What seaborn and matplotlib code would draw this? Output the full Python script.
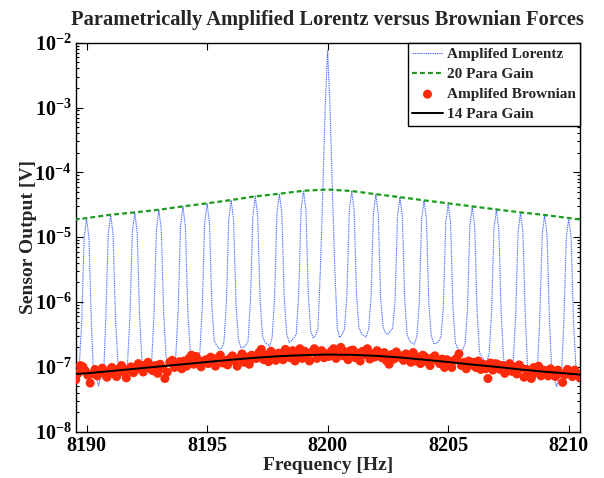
import numpy as np
import pandas as pd
import matplotlib
matplotlib.use("Agg")
import matplotlib.pyplot as plt
import seaborn as sns
from matplotlib.ticker import FixedLocator, FuncFormatter, LogLocator, NullFormatter

# ---------------- data ----------------
# Amplified Lorentz force spectrum, log10 of sensor output [V], 0.1 Hz grid 8189.6 .. 8210.4
lorentz_freq = np.round(np.linspace(8189.6, 8210.4, 209), 2)
lorentz_log = [
    -7.05, -6.98, -6.31, -5.01,
    -4.71, -5.01, -6.31, -7.18, -7.15, -7.30, -7.10, -7.20, -6.25, -4.95,   # 8190
    -4.65, -4.95, -6.25, -6.93, -7.02, -7.05, -7.07, -6.95, -6.22, -4.92,   # 8191
    -4.62, -4.92, -6.22, -6.91, -6.98, -7.03, -7.03, -6.93, -6.18, -4.88,   # 8192
    -4.58, -4.88, -6.18, -6.83, -6.98, -6.95, -6.90, -6.85, -6.13, -4.83,   # 8193
    -4.53, -4.83, -6.13, -6.76, -6.90, -6.88, -6.83, -6.78, -6.08, -4.78,   # 8194
    -4.48, -4.78, -6.08, -6.60, -6.67, -6.72, -6.72, -6.62, -6.03, -4.73,   # 8195
    -4.43, -4.73, -6.03, -6.58, -6.70, -6.70, -6.67, -6.60, -5.97, -4.67,   # 8196
    -4.37, -4.67, -5.97, -6.53, -6.62, -6.65, -6.68, -6.55, -5.93, -4.63,   # 8197
    -4.33, -4.63, -5.93, -6.48, -6.62, -6.60, -6.55, -6.50, -5.88, -4.58,   # 8198
    -4.28, -4.58, -5.88, -6.45, -6.55, -6.52, -6.40, -5.50, -4.30, -3.00,   # 8199
    -2.12, -3.00, -4.30, -5.50, -6.40, -6.55, -6.50, -6.42, -5.89, -4.59,   # 8200
    -4.29, -4.59, -5.89, -6.40, -6.48, -6.52, -6.54, -6.42, -5.94, -4.64,   # 8201
    -4.34, -4.64, -5.94, -6.38, -6.48, -6.50, -6.45, -6.40, -5.98, -4.68,   # 8202
    -4.38, -4.68, -5.98, -6.51, -6.60, -6.63, -6.65, -6.53, -6.03, -4.73,   # 8203
    -4.43, -4.73, -6.03, -6.52, -6.64, -6.64, -6.61, -6.54, -6.08, -4.78,   # 8204
    -4.48, -4.78, -6.08, -6.63, -6.72, -6.75, -6.73, -6.65, -6.13, -4.83,   # 8205
    -4.53, -4.83, -6.13, -6.78, -6.85, -6.90, -6.93, -6.80, -6.17, -4.87,   # 8206
    -4.57, -4.87, -6.17, -6.88, -6.96, -7.00, -7.02, -6.90, -6.22, -4.92,   # 8207
    -4.62, -4.92, -6.22, -7.05, -7.10, -7.22, -7.17, -7.05, -6.26, -4.96,   # 8208
    -4.66, -4.96, -6.26, -7.10, -7.20, -7.30, -7.15, -7.12, -6.31, -5.01,   # 8209
    -4.71, -5.01, -6.31, -7.00, -7.10,                                      # 8210
]

# 20x parametric gain envelope
gain20_freq = [8189.5, 8190, 8191, 8192, 8193, 8194, 8195, 8196, 8197, 8198, 8199,
               8200, 8201, 8202, 8203, 8204, 8205, 8206, 8207, 8208, 8209, 8210, 8210.5]
gain20_log = [-4.73, -4.705, -4.654, -4.617, -4.577, -4.525, -4.478, -4.427, -4.370, -4.330, -4.284,
              -4.265, -4.288, -4.337, -4.382, -4.432, -4.478, -4.525, -4.572, -4.617, -4.657, -4.705, -4.73]

# Amplified Brownian noise, 0.1 Hz grid 8189.55 .. 8210.45
brown_freq = np.round(np.linspace(8189.55, 8210.45, 210), 2)
brown_log = [
    -7.20, -7.10, -6.98, -7.00, -7.06,
    -7.13, -7.25, -7.11, -7.04, -7.14, -7.06, -7.02, -7.10, -7.16, -7.05,
    -7.01, -7.11, -7.15, -7.03, -6.98, -7.08, -7.17, -7.04, -7.00, -7.09,
    -7.04, -6.95, -6.99, -7.08, -6.97, -6.93, -7.03, -7.06, -6.98, -7.10,
    -6.96, -7.02, -7.18, -7.08, -6.93, -6.90, -7.01, -6.97, -6.92, -7.03,
    -6.91, -6.99, -6.87, -6.82, -6.96, -6.84, -6.90, -7.00, -6.93, -6.89,
    -6.95, -6.85, -6.89, -6.99, -6.86, -6.82, -6.94, -6.90, -6.97, -6.87,
    -6.83, -6.91, -6.99, -6.86, -6.80, -6.93, -6.85, -6.96, -6.82, -6.87,
    -6.87, -6.78, -6.73, -6.89, -6.82, -6.92, -6.76, -6.83, -6.90, -6.79,
    -6.79, -6.89, -6.73, -6.80, -6.86, -6.75, -6.91, -6.81, -6.72, -6.87,
    -6.76, -6.84, -6.91, -6.77, -6.72, -6.87, -6.79, -6.75, -6.86, -6.80,
    -6.84, -6.76, -6.72, -6.87, -6.79, -6.70, -6.83, -6.77, -6.89, -6.75,
    -6.74, -6.86, -6.79, -6.91, -6.76, -6.81, -6.72, -6.88, -6.80, -6.85,
    -6.75, -6.79, -6.86, -6.78, -6.91, -6.96, -6.81, -6.88, -6.77, -6.85,
    -6.83, -6.90, -6.80, -6.86, -6.93, -6.78, -6.91, -6.85, -6.95, -6.82,
    -6.85, -6.93, -6.98, -6.86, -6.83, -6.90, -6.95, -6.88, -7.01, -6.89,
    -6.92, -7.01, -6.90, -6.87, -6.80, -6.98, -6.93, -7.03, -6.91, -6.97,
    -6.93, -7.01, -6.91, -7.04, -6.96, -7.03, -7.18, -6.94, -7.05, -6.95,
    -6.96, -7.04, -6.98, -7.10, -6.99, -6.95, -7.07, -7.00, -7.11, -6.97,
    -7.02, -7.16, -7.04, -7.12, -7.18, -7.01, -7.09, -6.99, -7.14, -7.05,
    -7.06, -7.14, -7.03, -7.11, -7.15, -7.05, -7.10, -7.24, -7.12, -7.04,
    -7.09, -7.15, -7.05, -7.12, -7.16,
]

# 14x parametric gain fit
gain14_freq = [8189.5, 8190, 8191, 8192, 8193, 8194, 8195, 8196, 8197, 8198, 8199,
               8200, 8201, 8202, 8203, 8204, 8205, 8206, 8207, 8208, 8209, 8210, 8210.5]
gain14_log = [-7.11, -7.10, -7.065, -7.03, -6.995, -6.96, -6.925, -6.89, -6.86, -6.835, -6.82,
              -6.81, -6.815, -6.83, -6.855, -6.89, -6.925, -6.965, -7.00, -7.04, -7.075, -7.105, -7.12]

x_ticks = [8190, 8195, 8200, 8205, 8210]
y_exponents = [-8, -7, -6, -5, -4, -3, -2]

# ---------------- styling ----------------
sns.set_style("ticks")
plt.rcParams["font.family"] = ["Liberation Serif", "DejaVu Serif"]
plt.rcParams["font.weight"] = "bold"
plt.rcParams["mathtext.fontset"] = "custom"
plt.rcParams["mathtext.rm"] = "Liberation Serif:bold"
plt.rcParams["mathtext.bf"] = "Liberation Serif:bold"
plt.rcParams["mathtext.it"] = "Liberation Serif:bold:italic"

fig = plt.figure(figsize=(6.04, 4.78), dpi=100)
ax = fig.add_axes([0.1253, 0.0969, 0.9603 - 0.1253, 0.9107 - 0.0969])

lor = pd.DataFrame({"f": lorentz_freq, "v": 10.0 ** np.array(lorentz_log)})
g20 = pd.DataFrame({"f": gain20_freq, "v": 10.0 ** np.array(gain20_log)})
bro = pd.DataFrame({"f": brown_freq, "v": 10.0 ** np.array(brown_log)})
g14 = pd.DataFrame({"f": gain14_freq, "v": 10.0 ** np.array(gain14_log)})

sns.lineplot(data=lor, x="f", y="v", ax=ax, color="#4a6aff", lw=0.8,
             linestyle=(0, (1.2, 0.8)), estimator=None, label="Amplifed Lorentz", zorder=2)
sns.lineplot(data=g20, x="f", y="v", ax=ax, color="#1e9a1e", lw=1.6,
             linestyle=(0, (2.2, 1.4)), estimator=None, label="20 Para Gain", zorder=3)
sns.scatterplot(data=bro, x="f", y="v", ax=ax, color="#ff2a0a", s=42, edgecolor="none",
                linewidth=0, label="Amplifed Brownian", zorder=4)
sns.lineplot(data=g14, x="f", y="v", ax=ax, color="black", lw=1.4,
             estimator=None, label="14 Para Gain", zorder=5)

ax.set_yscale("log")
ax.set_xlim(8189.55, 8210.47)
ax.set_ylim(1e-8, 1e-2)

ax.xaxis.set_major_locator(FixedLocator(x_ticks))
ax.xaxis.set_major_formatter(FuncFormatter(lambda v, p: f"{int(round(v))}"))
ax.yaxis.set_major_locator(FixedLocator([10.0 ** e for e in y_exponents]))
ax.yaxis.set_minor_locator(LogLocator(base=10, subs=np.arange(2, 10), numticks=20))
ax.yaxis.set_minor_formatter(NullFormatter())
ax.yaxis.set_major_formatter(FuncFormatter(
    lambda v, p: r"$\mathbf{10^{%d}}$" % int(round(np.log10(v)))))

ax.tick_params(axis="both", which="both", direction="in", top=True, right=True,
               colors="black", width=0.8)
ax.tick_params(axis="both", which="major", length=5, labelsize=14.5, pad=3)
ax.tick_params(axis="x", which="major", pad=3)
ax.tick_params(axis="y", which="minor", length=2.5)
for lab in ax.get_xticklabels() + ax.get_yticklabels():
    lab.set_fontweight("bold")
for sp in ax.spines.values():
    sp.set_color("black")
    sp.set_linewidth(1.0)

ax.set_xlabel("Frequency [Hz]", fontsize=14, fontweight="bold")
ax.xaxis.set_label_coords(0.5, -0.066)
ax.set_ylabel("Sensor Output [V]", fontsize=14, fontweight="bold")
ax.yaxis.set_label_coords(-0.077, 0.5)
ax.set_title("Parametrically Amplified Lorentz versus Brownian Forces",
             fontsize=14.8, fontweight="bold", pad=13)

leg = ax.legend(loc="upper right", borderaxespad=0.0, frameon=True,
                fancybox=False, handlelength=2.0, handletextpad=0.25, labelspacing=0.42,
                borderpad=0.3, scatterpoints=1, prop={"weight": "bold", "size": 11})
leg.get_frame().set_edgecolor("black")
leg.get_frame().set_linewidth(1.0)
leg.get_frame().set_alpha(1.0)

fig.savefig("out.png", dpi=100)
